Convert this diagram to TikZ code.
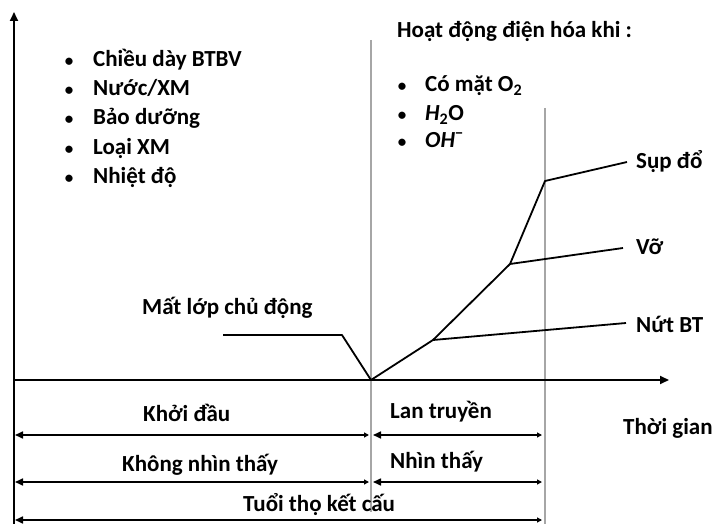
\documentclass[tikz,border=0pt]{standalone}
\usepackage{fontspec}
\setmainfont{Carlito}
\usetikzlibrary{arrows.meta}
\begin{document}
\begin{tikzpicture}[x=1pt,y=-1pt,
  txt/.style={anchor=base west,inner sep=0pt,text height=14pt,text depth=4pt,font=\fontsize{23}{25}\selectfont\bfseries},
  bul/.style={anchor=base,inner sep=0pt,font=\fontsize{17}{19}\selectfont\bfseries},
  axis/.style={line width=2pt,-{Triangle[length=9pt,width=8pt]}},
  curve/.style={line width=1.8pt,line join=round},
  guide/.style={line width=1.4pt,gray!70},
  span/.style={line width=1.6pt,{Triangle[length=8pt,width=7pt]}-{Triangle[length=5pt,width=5pt]}}]
\useasboundingbox (0,0) rectangle (715,524);
% coordinates
\coordinate (O) at (14,380);
\coordinate (Ytop) at (14,12);
\coordinate (Ybot) at (14,524);
\coordinate (Xend) at (669,380);
\coordinate (V1t) at (371,40);
\coordinate (V1b) at (371,512);
\coordinate (V2t) at (545,108);
\coordinate (V2b) at (545,524);
\coordinate (P) at (371,380);
\coordinate (M1) at (223,335);
\coordinate (M2) at (342,335);
\coordinate (J1) at (433,340);
\coordinate (J2) at (510,264);
\coordinate (J3) at (545,181);
\coordinate (E1) at (627,162);
\coordinate (E2) at (623,248);
\coordinate (E3) at (626,323);
% guides
\draw[guide] (V1t) -- (V1b);
\draw[guide] (V2t) -- (V2b);
% axes
\draw[line width=2pt] (Ybot) -- (O);
\draw[axis] (O) -- (Ytop);
\draw[axis] (O) -- (Xend);
% curves
\draw[curve] (M1) -- (M2) -- (P) -- (J1) -- (J2) -- (J3) -- (E1);
\draw[curve] (J2) -- (E2);
\draw[curve] (J1) -- (E3);
% bottom spans
\coordinate (L1a) at (15,435); \coordinate (L1b) at (369,435);
\coordinate (R1a) at (373,435); \coordinate (R1b) at (542,435);
\coordinate (L2a) at (15,482); \coordinate (L2b) at (369,482);
\coordinate (R2a) at (373,482); \coordinate (R2b) at (542,482);
\coordinate (T3a) at (15,520); \coordinate (T3b) at (542,520);
\draw[span] (L1a) -- (L1b);
\draw[span] (R1a) -- (R1b);
\draw[span] (L2a) -- (L2b);
\draw[span] (R2a) -- (R2b);
\draw[span] (T3a) -- (T3b);
% left list
\foreach \t/\y [count=\i] in {{Chiều dày BTBV}/67,{Nước/XM}/96,{Bảo dưỡng}/125,{Loại XM}/154,{Nhiệt độ}/183}{
  \node[bul] (b\i) at (69,\y) {•};
  \node[txt] (l\i) at (93,\y) {\t};
}
% right list
\node[txt] (head) at (397,38) {Hoạt động điện hóa khi :};
\node[bul] (rb1) at (402,92) {•};
\node[txt] (r1) at (425,92) {Có mặt O\textsubscript{2}};
\node[bul] (rb2) at (402,121) {•};
\node[txt] (r2) at (425,121) {\textit{H}\textsubscript{2}O};
\node[bul] (rb3) at (402,148) {•};
\node[txt] (r3) at (425,148) {\textit{OH}\textsuperscript{−}};
% labels
\node[txt] (mat) at (142,314) {Mất lớp chủ động};
\node[txt] (sup) at (636,168) {Sụp đổ};
\node[txt] (vo) at (636,254) {Vỡ};
\node[txt] (nut) at (636,332) {Nứt BT};
\node[txt] (khoi) at (143,421) {Khởi đầu};
\node[txt] (lan) at (390,418) {Lan truyền};
\node[txt] (thoi) at (623,434) {Thời gian};
\node[txt] (khong) at (122,471) {Không nhìn thấy};
\node[txt] (nhin) at (390,468) {Nhìn thấy};
\node[txt] (tuoi) at (243,511) {Tuổi thọ kết cấu};
\end{tikzpicture}
\end{document}
